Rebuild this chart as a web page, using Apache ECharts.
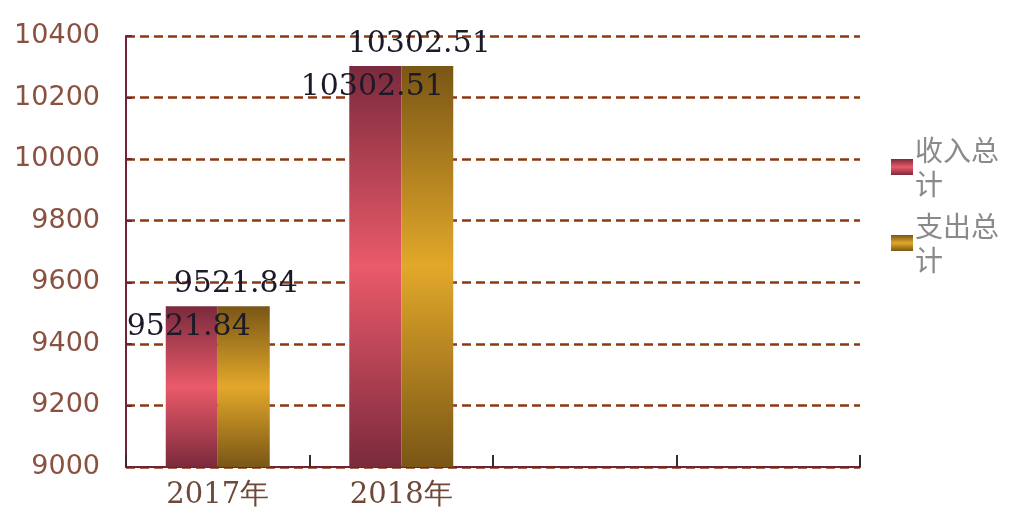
<!DOCTYPE html>
<html lang="zh">
<head>
    <meta charset="UTF-8">
    <title>收支总计</title>
    <script src="https://cdn.jsdelivr.net/npm/echarts@6/dist/echarts.min.js"></script>
    <style>
        html, body { margin: 0; padding: 0; background: #fff; }
        #main { width: 1015px; height: 518px; }
    </style>
</head>
<body>
<div id="main"></div>
<script>
    // 数据
    var categories = ['2017年', '2018年', '', ''];
    var seriesNames = ['收入总计', '支出总计'];
    var incomeValues = [9521.84, 10302.51, null, null];
    var expenseValues = [9521.84, 10302.51, null, null];
    var yTicks = { min: 9000, max: 10400, interval: 200 };

    // 竖直渐变：上下暗，中间亮
    function barGradient(dark, light) {
        return new echarts.graphic.LinearGradient(0, 0, 0, 1, [
            { offset: 0, color: dark },
            { offset: 0.5, color: light },
            { offset: 1, color: dark }
        ]);
    }

    var myChart = echarts.init(document.getElementById('main'));

    var labelFont = {
        fontFamily: 'DejaVu Serif',
        fontSize: 30,
        color: '#1c1a28'
    };

    var option = {
        animation: false,
        grid: { left: 126, right: 155, top: 36, bottom: 51 },
        legend: {
            orient: 'vertical',
            left: 886,
            top: 128,
            icon: 'rect',
            itemWidth: 22,
            itemHeight: 16,
            itemGap: 8,
            formatter: function (name) {
                return name.slice(0, 3) + '\n' + name.slice(3);
            },
            textStyle: {
                fontFamily: 'Noto Sans CJK SC',
                fontSize: 28,
                lineHeight: 34,
                color: '#8a8a8a',
                padding: [0, 0, 0, -3]
            },
            data: seriesNames
        },
        xAxis: {
            type: 'category',
            data: categories,
            axisLine: { lineStyle: { color: '#6e2434', width: 2 } },
            axisTick: { show: true, inside: true, length: 12, lineStyle: { color: '#3a2a2a', width: 2 } },
            axisLabel: {
                fontFamily: 'DejaVu Serif',
                fontSize: 29,
                color: '#6e4838',
                margin: 14
            }
        },
        yAxis: {
            type: 'value',
            min: yTicks.min,
            max: yTicks.max,
            interval: yTicks.interval,
            axisLine: { show: true, lineStyle: { color: '#6e2434', width: 2 } },
            axisTick: { show: true, inside: true, length: 6, lineStyle: { color: '#6e2434', width: 2 } },
            axisLabel: {
                formatter: function (v) { return String(v); },
                fontFamily: 'DejaVu Sans',
                fontSize: 27,
                color: '#8a5040',
                margin: 26
            },
            splitLine: {
                show: true,
                lineStyle: { color: '#8e3812', width: 2.5, type: [9, 5] }
            }
        },
        series: [
            {
                name: seriesNames[0],
                type: 'bar',
                barWidth: 52,
                barGap: '0%',
                data: incomeValues,
                itemStyle: { color: barGradient('#7a2a3c', '#ea5a6a') },
                label: Object.assign({
                    show: true,
                    position: 'insideTop',
                    distance: 4,
                    offset: [-3, 2]
                }, labelFont)
            },
            {
                name: seriesNames[1],
                type: 'bar',
                barWidth: 52,
                barGap: '0%',
                data: expenseValues,
                itemStyle: { color: barGradient('#7a5616', '#e2a82a') },
                label: Object.assign({
                    show: true,
                    position: 'top',
                    distance: 4,
                    offset: [-8, -3]
                }, labelFont)
            }
        ]
    };

    myChart.setOption(option);
</script>
</body>
</html>
